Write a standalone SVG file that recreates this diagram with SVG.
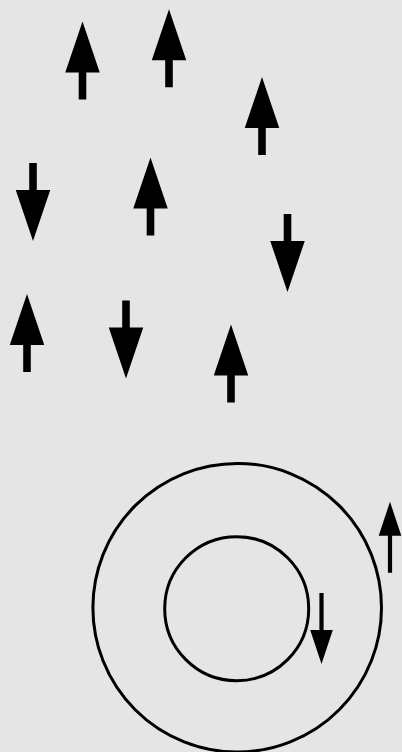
<svg xmlns="http://www.w3.org/2000/svg" xmlns:xlink="http://www.w3.org/1999/xlink" width="402" height="752" viewBox="0 0 402 752">
<style>
.arrow{fill:#000;stroke:none}
.ring{fill:none;stroke:#000;stroke-width:3}
</style>
<defs>
<polygon id="bigUp" class="arrow" points="0,0 17.25,51 3.8,51 3.8,78 -3.8,78 -3.8,51 -17.25,51"/>
<polygon id="smallUp" class="arrow" points="0,0 11.3,34 2.1,34 2.1,71 -2.1,71 -2.1,34 -11.3,34"/>
</defs>
<rect x="0" y="0" width="402" height="752" fill="#e5e5e5"/>
<g id="arrow1"><use href="#bigUp" xlink:href="#bigUp" transform="translate(82.5,21.5)"/></g>
<g id="arrow2"><use href="#bigUp" xlink:href="#bigUp" transform="translate(169,9.3)"/></g>
<g id="arrow3"><use href="#bigUp" xlink:href="#bigUp" transform="translate(262,77)"/></g>
<g id="arrow4"><use href="#bigUp" xlink:href="#bigUp" transform="translate(33,241) scale(1,-1)"/></g>
<g id="arrow5"><use href="#bigUp" xlink:href="#bigUp" transform="translate(150.5,157.5)"/></g>
<g id="arrow6"><use href="#bigUp" xlink:href="#bigUp" transform="translate(287.5,292) scale(1,-1)"/></g>
<g id="arrow7"><use href="#bigUp" xlink:href="#bigUp" transform="translate(27,294)"/></g>
<g id="arrow8"><use href="#bigUp" xlink:href="#bigUp" transform="translate(126,378.5) scale(1,-1)"/></g>
<g id="arrow9"><use href="#bigUp" xlink:href="#bigUp" transform="translate(231,324.5)"/></g>
<g id="outer-ring"><circle class="ring" cx="237.2" cy="607.7" r="144.3"/></g>
<g id="inner-ring"><circle class="ring" cx="236.7" cy="608.7" r="72"/></g>
<g id="outer-arrow"><use href="#smallUp" xlink:href="#smallUp" transform="translate(390,501.7)"/></g>
<g id="inner-arrow"><use href="#smallUp" xlink:href="#smallUp" transform="translate(321.5,664) scale(1,-1)"/></g>
<g id="connectors"></g>
</svg>
